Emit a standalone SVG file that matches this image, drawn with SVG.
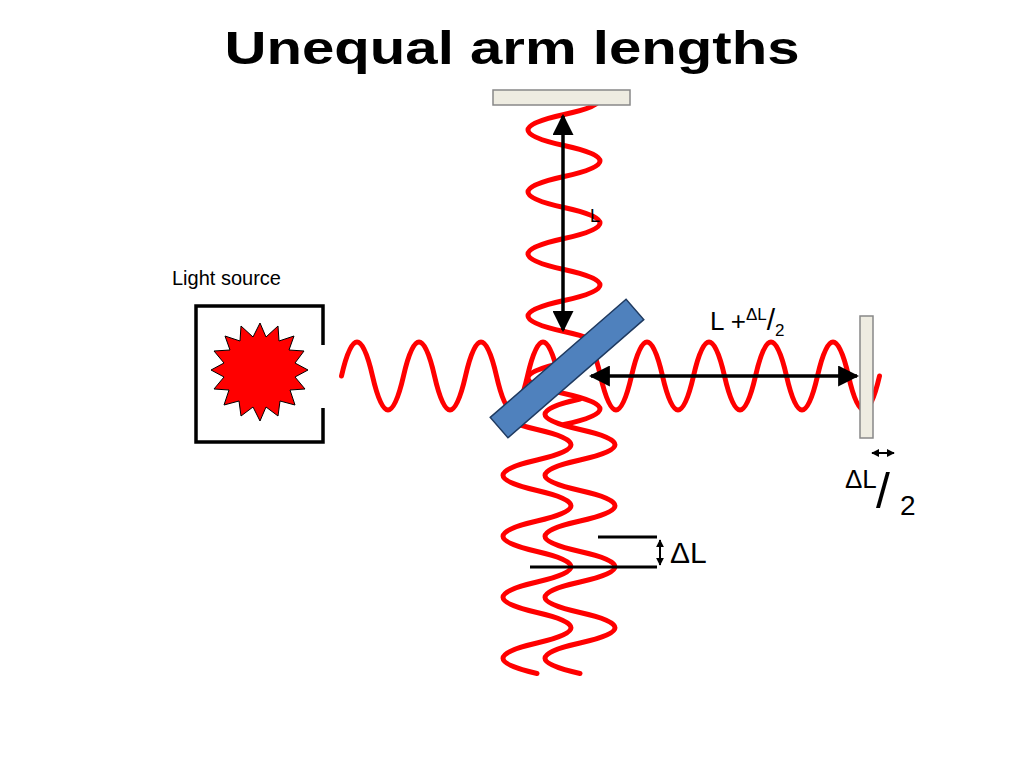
<svg xmlns="http://www.w3.org/2000/svg" width="1024" height="768" viewBox="0 0 1024 768">
<defs>
<style>
.w{fill:none;stroke:#ff0000;stroke-width:5;stroke-linecap:round}
.k{stroke:#000;stroke-width:3.5;fill:none}
.t{font-family:"Liberation Sans",Arial,sans-serif;fill:#000}
</style>
<marker id="ah" viewBox="0 0 10 10" refX="9" refY="5" markerWidth="4" markerHeight="4" orient="auto-start-reverse"><path d="M0 0L10 5L0 10z" fill="#000"/></marker>
<marker id="as" viewBox="0 0 10 10" refX="9" refY="5" markerWidth="6" markerHeight="6" orient="auto-start-reverse"><path d="M0 0L10 5L0 10z" fill="#000"/></marker>
</defs>
<rect width="1024" height="768" fill="#fff"/>
<text class="t" x="512" y="64" font-size="46" font-weight="bold" text-anchor="middle" textLength="575" lengthAdjust="spacingAndGlyphs">Unequal arm lengths</text>
<g id="waves">
<path class="w" d="M600 99Q600 107 564 114.5q-72 15.5 0 31t0 31t0 31t0 31t0 31t0 31t0 31t0 31t0 31t0 31"/>
<path class="w" d="M341.5 376q15.5 -68 31 0t31 0t31 0t31 0t31 0t31 0t31 0"/>
<path class="w" d="M569.5 376q15.5 -68 31 0t31 0t31 0t31 0t31 0t31 0t31 0t31 0t31 0t31 0"/>
<path class="w" d="M537 399q-68 15.25 0 30.5t0 30.5t0 30.5t0 30.5t0 30.5t0 30.5t0 30.5t0 30.5t0 30.5"/>
<path class="w" d="M580 399q-70 15.25 0 30.5t0 30.5t0 30.5t0 30.5t0 30.5t0 30.5t0 30.5t0 30.5t0 30.5"/>
</g>
<g id="top-mirror"><rect x="493" y="90" width="137" height="15" fill="#eeece1" stroke="#888" stroke-width="1.5"/></g>
<g id="right-mirror"><rect x="860" y="316" width="13" height="122" fill="#eeece1" stroke="#888" stroke-width="1.5"/></g>
<g id="light-source">
<path class="k" d="M323 345V306H196V442H323V408"/>
<polygon fill="#ff0000" stroke="#000" stroke-width="1" points="260,323 266,337 278,326 279,341 294,336 289,350 304,351 295,363 308,370 295,377 305,389 290,390 295,405 280,401 278,416 266,407 260,421 253,407 241,416 239,401 224,405 229,390 214,389 224,377 211,370 224,363 214,351 230,350 225,336 240,341 241,326 253,337"/>
<text class="t" x="172" y="285" font-size="20">Light source</text>
</g>
<g id="beam-splitter"><rect x="477" y="355" width="180" height="27" fill="#4f81bd" stroke="#1f3a60" stroke-width="1.5" transform="rotate(-41 567 368.5)"/></g>
<g id="connectors">
<line class="k" x1="563" y1="116" x2="563" y2="330" marker-start="url(#as)" marker-end="url(#as)"/>
<line class="k" x1="591" y1="376" x2="857" y2="376" marker-start="url(#as)" marker-end="url(#as)"/>
<line stroke="#000" stroke-width="2" x1="872" y1="453" x2="894" y2="453" marker-start="url(#ah)" marker-end="url(#ah)"/>
<line stroke="#000" stroke-width="3" x1="598" y1="537" x2="657" y2="537"/>
<line stroke="#000" stroke-width="3" x1="530" y1="567" x2="657" y2="567"/>
<line stroke="#000" stroke-width="2" x1="660" y1="540" x2="660" y2="565" marker-start="url(#ah)" marker-end="url(#ah)"/>
</g>
<g id="labels">
<text class="t" x="590" y="222" font-size="18">L</text>
<text class="t" x="710" y="330" font-size="26">L +<tspan font-size="17" dy="-10">ΔL</tspan><tspan font-size="30" dy="10">/</tspan><tspan font-size="17" dy="6">2</tspan></text>
<text class="t" x="845" y="488" font-size="26">ΔL</text>
<text class="t" x="876" y="508" font-size="50">/</text>
<text class="t" x="900" y="515" font-size="28">2</text>
<text class="t" x="670" y="563" font-size="30">ΔL</text>
</g>
</svg>
